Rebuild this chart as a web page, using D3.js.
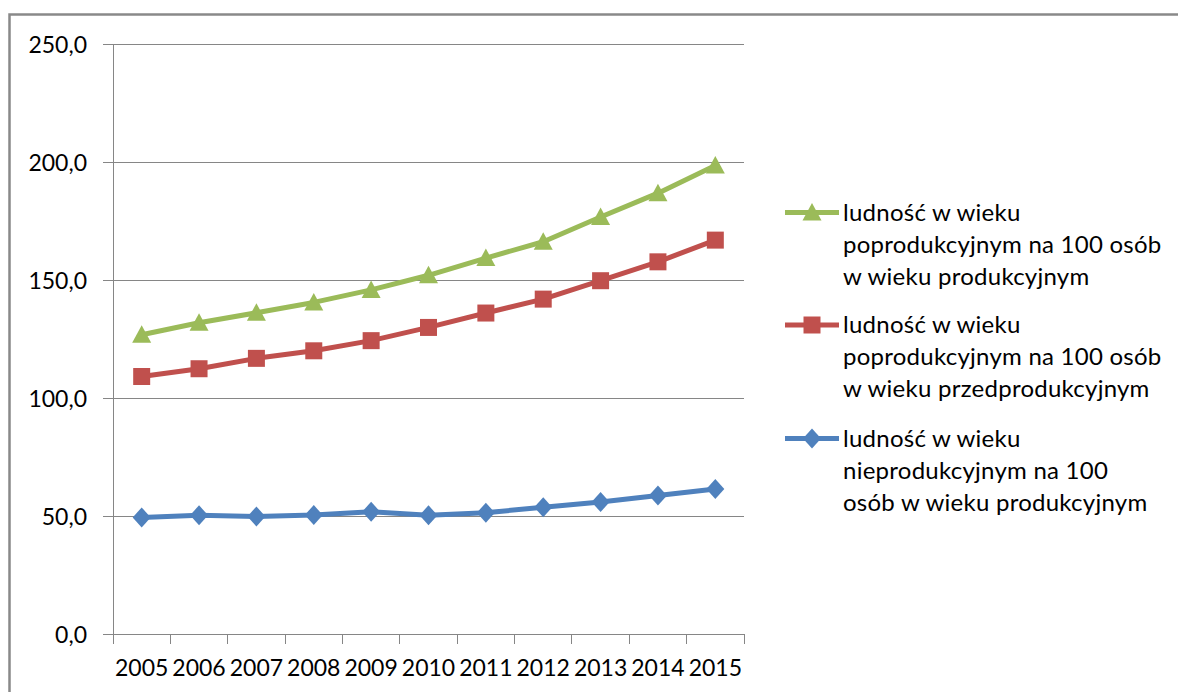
<!DOCTYPE html>
<html>
<meta charset="utf-8">
<style>
  body {
    margin: 0;
    background: #fff;
    overflow: hidden;
  }
  text {
    font-family: Lato, 'Open Sans', sans-serif;
    fill: #000;
  }
  .grid line {
    stroke: #868686;
    stroke-width: 1;
  }
</style>
<body>
<script src="https://cdnjs.cloudflare.com/ajax/libs/d3/7.8.5/d3.min.js"></script>
<script>

// years on the x axis
var years = ['2005', '2006', '2007', '2008', '2009', '2010', '2011', '2012', '2013', '2014', '2015'];

// series values
var poprodVsProd = [126.8, 131.9, 136.1, 140.5, 145.8, 152.0, 159.3, 166.2, 176.7, 186.8, 198.5];
var poprodVsPrzed = [109.1, 112.4, 116.8, 120.0, 124.3, 129.9, 136.0, 141.9, 149.7, 157.7, 166.9];
var nieprodVsProd = [49.4, 50.3, 49.8, 50.4, 51.8, 50.3, 51.4, 53.7, 55.9, 58.7, 61.4];

var yTicks = [0, 50, 100, 150, 200, 250];

var series = [
  {
    name: ['ludność w wieku', 'poprodukcyjnym na 100 osób', 'w wieku produkcyjnym'],
    values: poprodVsProd,
    color: '#9BBB59',
    marker: 'triangle'
  },
  {
    name: ['ludność w wieku', 'poprodukcyjnym na 100 osób', 'w wieku przedprodukcyjnym'],
    values: poprodVsPrzed,
    color: '#C0504D',
    marker: 'square'
  },
  {
    name: ['ludność w wieku', 'nieprodukcyjnym na 100', 'osób w wieku produkcyjnym'],
    values: nieprodVsProd,
    color: '#4F81BD',
    marker: 'diamond'
  }
];

var width = 1178;
var height = 692;

var plot = { left: 113, right: 744, top: 44, bottom: 634 };

var svg = d3
  .select('body')
  .append('svg')
  .attr('width', width)
  .attr('height', height);

// outer chart frame (runs off the right and bottom of the picture)
svg
  .append('rect')
  .attr('x', 9.5)
  .attr('y', 14.5)
  .attr('width', width + 20)
  .attr('height', height + 20)
  .style('fill', 'none')
  .style('stroke', '#898989')
  .style('stroke-width', 2.5);

var x = d3
  .scaleBand()
  .domain(years)
  .range([plot.left, plot.right])
  .paddingInner(0)
  .paddingOuter(0);

var y = d3
  .scaleLinear()
  .domain([0, 250])
  .range([plot.bottom, plot.top]);

function cx(d, i) {
  return x(years[i]) + x.bandwidth() / 2;
}

// gridlines + y axis
var yAxis = d3
  .axisLeft(y)
  .tickValues(yTicks)
  .tickSize(-(plot.right - plot.left))
  .tickPadding(0)
  .tickFormat(function(d) {
    return d3.format('.1f')(d).replace('.', ',');
  });

var gy = svg
  .append('g')
  .attr('class', 'grid')
  .attr('transform', 'translate(' + plot.left + ',0)')
  .call(yAxis);

gy.select('.domain').remove();
gy.selectAll('.tick line')
  .attr('x1', -10)
  .attr('shape-rendering', 'crispEdges');
gy.selectAll('.tick text')
  .attr('x', -26)
  .attr('dy', '0.35em')
  .style('font-size', '23px')
  .style('font-family', 'Lato, sans-serif')
  .style('fill', '#000');

// vertical axis line
svg
  .append('line')
  .attr('x1', plot.left)
  .attr('x2', plot.left)
  .attr('y1', plot.top)
  .attr('y2', plot.bottom + 10)
  .style('stroke', '#868686')
  .attr('shape-rendering', 'crispEdges');

// x axis with category boundary ticks
var xBoundaries = years.map(function(d) {
  return x(d) + x.bandwidth();
});

var gx = svg
  .append('g')
  .attr('class', 'grid')
  .attr('transform', 'translate(0,' + plot.bottom + ')');

gx.append('line')
  .attr('x1', plot.left - 10)
  .attr('x2', plot.right)
  .attr('y1', 0)
  .attr('y2', 0)
  .attr('shape-rendering', 'crispEdges');

gx.selectAll('line.tk')
  .data(xBoundaries)
  .enter()
  .append('line')
  .attr('class', 'tk')
  .attr('x1', function(d) { return d; })
  .attr('x2', function(d) { return d; })
  .attr('y1', 0)
  .attr('y2', 10)
  .attr('shape-rendering', 'crispEdges');

gx.selectAll('text')
  .data(years)
  .enter()
  .append('text')
  .attr('x', function(d) { return x(d) + x.bandwidth() / 2; })
  .attr('y', 42)
  .attr('text-anchor', 'middle')
  .style('font-size', '23px')
  .text(function(d) { return d; });

// marker shapes
function markerPath(type) {
  if (type === 'triangle') {
    return 'M0,-9.5L9.5,8L-9.5,8Z';
  }
  if (type === 'square') {
    return 'M-8.5,-8.5L8.5,-8.5L8.5,8.5L-8.5,8.5Z';
  }
  return 'M0,-10L9,0L0,10L-9,0Z';
}

var line = d3
  .line()
  .x(cx)
  .y(function(d) { return y(d); });

series.forEach(function(s) {
  var g = svg.append('g');

  g.append('path')
    .datum(s.values)
    .attr('d', line)
    .style('fill', 'none')
    .style('stroke', s.color)
    .style('stroke-width', 5)
    .style('stroke-linejoin', 'round');

  g.selectAll('path.mk')
    .data(s.values)
    .enter()
    .append('path')
    .attr('class', 'mk')
    .attr('d', markerPath(s.marker))
    .attr('transform', function(d, i) {
      return 'translate(' + cx(d, i) + ',' + y(d) + ')';
    })
    .style('fill', s.color);
});

////////////////////////////////
// Legend
////////////////////////////////

var legendTop = [212.5, 325, 438.5];
var lineHeight = 32;

var legend = svg
  .append('g')
  .selectAll('g')
  .data(series)
  .enter()
  .append('g')
  .attr('transform', function(d, i) {
    return 'translate(785,' + legendTop[i] + ')';
  });

legend
  .append('line')
  .attr('x1', 0)
  .attr('x2', 54)
  .style('stroke', function(d) { return d.color; })
  .style('stroke-width', 5);

legend
  .append('path')
  .attr('d', function(d) { return markerPath(d.marker); })
  .attr('transform', 'translate(27,0)')
  .style('fill', function(d) { return d.color; });

legend
  .append('text')
  .attr('x', 58)
  .attr('y', 8)
  .style('font-size', '24px')
  .style('letter-spacing', '0.25px')
  .selectAll('tspan')
  .data(function(d) { return d.name; })
  .enter()
  .append('tspan')
  .attr('x', 58)
  .attr('dy', function(d, i) { return i === 0 ? 0 : lineHeight; })
  .text(function(d) { return d; });

</script>
</body>
</html>
